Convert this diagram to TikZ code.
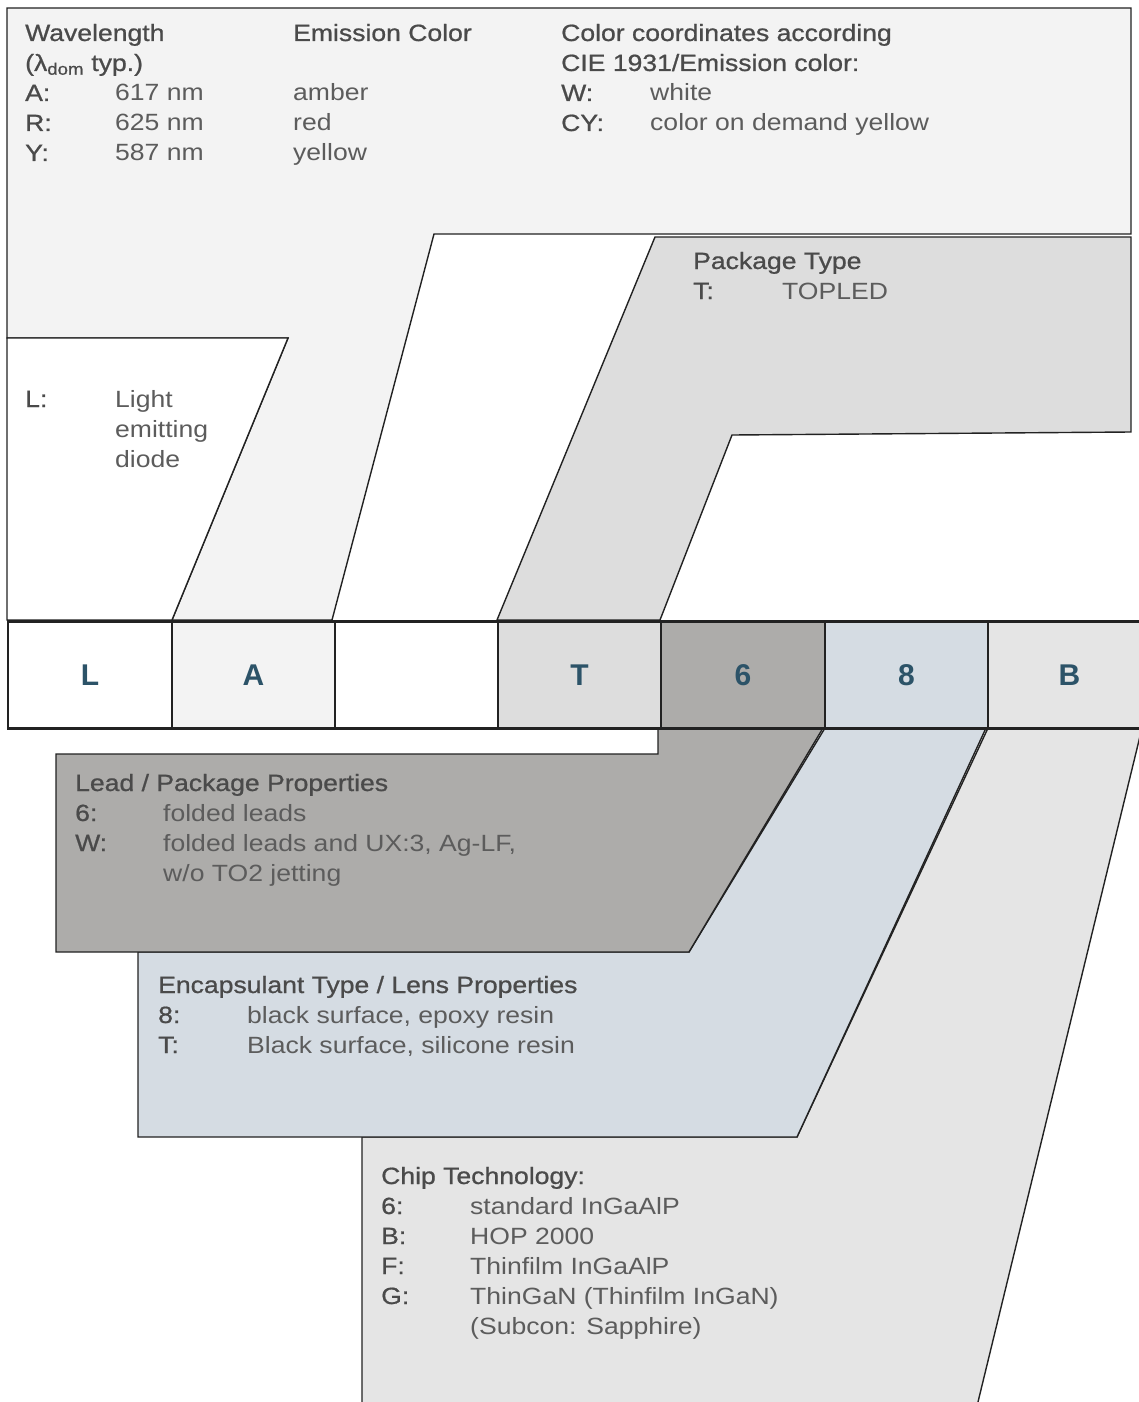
\documentclass[tikz,border=0pt]{standalone}
\usepackage{fontspec}
\usepackage{array}
\setmainfont[FakeStretch=1.13]{Liberation Sans}
\newfontfamily\hdfont[FakeStretch=1.13,FakeBold=0.8]{Liberation Sans}
\newfontfamily\codefont{Liberation Sans Bold}
\definecolor{toplight}{HTML}{F3F3F3}
\definecolor{pkgcol}{HTML}{DDDDDD}
\definecolor{leadcol}{HTML}{ADACAA}
\definecolor{encapcol}{HTML}{D5DCE3}
\definecolor{chipcol}{HTML}{E5E5E5}
\definecolor{lettercol}{HTML}{2C5368}
\definecolor{valcol}{HTML}{5C5C5C}
\definecolor{hdcol}{HTML}{4A4A4A}
\definecolor{edgecol}{HTML}{222222}
\newcommand\hd[1]{\textcolor{hdcol}{\hdfont #1}}
\begin{document}
\begin{tikzpicture}[x=1pt,y=-1pt,line join=miter,
  regionedge/.style={draw=edgecol,line width=1.4pt},
  codebox/.style={draw=edgecol,line width=1.3pt,minimum height=106pt,inner sep=0pt,
    text=lettercol,font=\codefont\fontsize{30}{30}\selectfont},
  infotext/.style={anchor=base west,inner sep=0pt,text=valcol,
    font=\fontsize{23.5}{30}\selectfont}]
\useasboundingbox (0,0) rectangle (1139,1402);

% upper regions
\path[regionedge,fill=toplight] (7,8) -- (1131,8) -- (1131,234) -- (434,234)
  -- (332,620) -- (172,620) -- (288,338) -- (7,338) -- cycle;
\path[regionedge,fill=white] (7,338) -- (288,338) -- (172,620) -- (7,620) -- cycle;
\path[regionedge,fill=pkgcol] (655,237) -- (1131,237) -- (1131,432) -- (732,435)
  -- (660,620) -- (497,620) -- cycle;

% lower regions
\path[regionedge,fill=chipcol] (988,728) -- (1142,728) -- (977,1406) -- (362,1406)
  -- (362,1137) -- (797,1137) -- cycle;
\path[regionedge,fill=encapcol] (825,728) -- (986,728) -- (797,1137) -- (138,1137)
  -- (138,952) -- (689,952) -- cycle;
\path[regionedge,fill=leadcol] (658,728) -- (823,728) -- (689,952) -- (56,952)
  -- (56,754) -- (658,754) -- cycle;

% code row
\node[codebox,fill=white,minimum width=164pt] (bL) at (90,675) {L};
\node[codebox,fill=toplight,minimum width=163pt] (bA) at (253.5,675) {A};
\node[codebox,fill=white,minimum width=163pt] (bX) at (416.5,675) {};
\node[codebox,fill=pkgcol,minimum width=163pt] (bT) at (579.5,675) {T};
\node[codebox,fill=leadcol,minimum width=164pt] (b6) at (743,675) {6};
\node[codebox,fill=encapcol,minimum width=163pt] (b8) at (906.5,675) {8};
\node[codebox,fill=chipcol,minimum width=163pt] (bB) at (1069.5,675) {B};
\draw[draw=edgecol,line width=2.6pt] (bL.north west) -- (bB.north east);
\draw[draw=edgecol,line width=2.6pt] (bL.south west) -- (bB.south east);

% texts
\node[infotext] (twave) at (25,41) {\begin{tabular}[t]{@{}p{90pt}@{}p{178pt}@{}l@{}}
\multicolumn{2}{@{}l@{}}{\hd{Wavelength}} & \hd{Emission Color}\\
\multicolumn{2}{@{}l@{}}{\hd{(λ\textsubscript{dom} typ.)}} & \\
\hd{A:} & 617 nm & amber\\
\hd{R:} & 625 nm & red\\
\hd{Y:} & 587 nm & yellow
\end{tabular}};

\node[infotext] (tcie) at (561,41) {\begin{tabular}[t]{@{}p{89pt}@{}l@{}}
\multicolumn{2}{@{}l@{}}{\hd{Color coordinates according}}\\
\multicolumn{2}{@{}l@{}}{\hd{CIE 1931/Emission color:}}\\
\hd{W:} & white\\
\hd{CY:} & color on demand yellow
\end{tabular}};

\node[infotext] (tled) at (25,407) {\begin{tabular}[t]{@{}p{90pt}@{}l@{}}
\hd{L:} & Light\\
 & emitting\\
 & diode
\end{tabular}};

\node[infotext] (tpkg) at (693,269) {\begin{tabular}[t]{@{}p{89pt}@{}l@{}}
\multicolumn{2}{@{}l@{}}{\hd{Package Type}}\\
\hd{T:} & TOPLED
\end{tabular}};

\node[infotext] (tlead) at (75,791) {\begin{tabular}[t]{@{}p{88pt}@{}l@{}}
\multicolumn{2}{@{}l@{}}{\hd{Lead / Package Properties}}\\
\hd{6:} & folded leads\\
\hd{W:} & folded leads and UX:3, Ag-LF,\\
 & w/o TO2 jetting
\end{tabular}};

\node[infotext] (tencap) at (158,993) {\begin{tabular}[t]{@{}p{89pt}@{}l@{}}
\multicolumn{2}{@{}l@{}}{\hd{Encapsulant Type / Lens Properties}}\\
\hd{8:} & black surface, epoxy resin\\
\hd{T:} & Black surface, silicone resin
\end{tabular}};

\node[infotext] (tchip) at (381,1184) {\begin{tabular}[t]{@{}p{89pt}@{}l@{}}
\multicolumn{2}{@{}l@{}}{\hd{Chip Technology:}}\\
\hd{6:} & standard InGaAlP\\
\hd{B:} & HOP 2000\\
\hd{F:} & Thinfilm InGaAlP\\
\hd{G:} & ThinGaN (Thinfilm InGaN)\\
 & (Subcon: Sapphire)
\end{tabular}};
\end{tikzpicture}
\end{document}
